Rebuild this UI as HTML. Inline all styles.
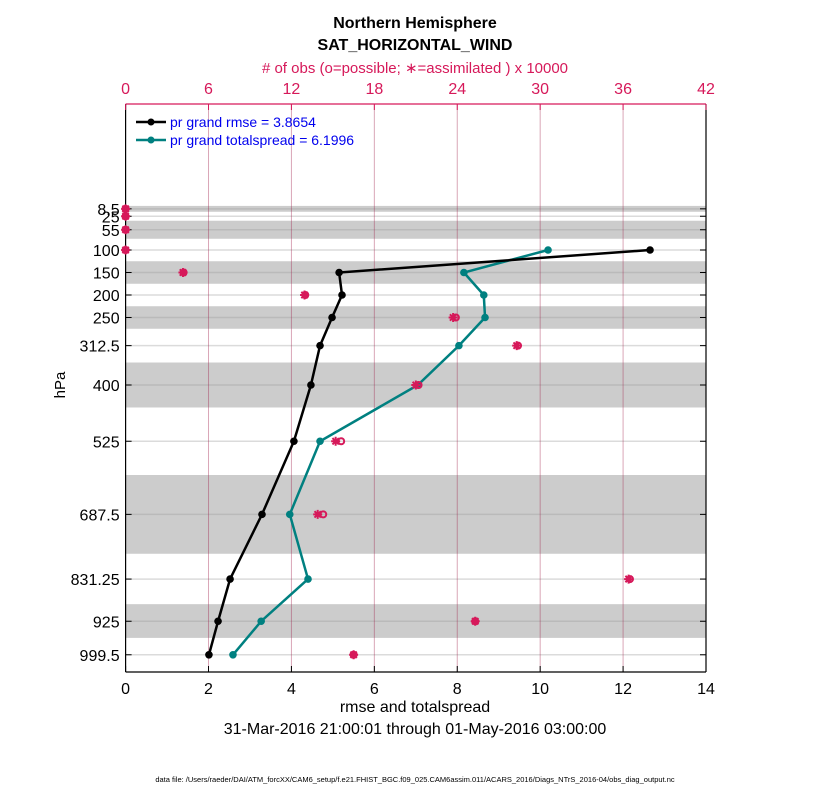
<!DOCTYPE html>
<html><head><meta charset="utf-8"><style>
body{margin:0;background:#fff;}
svg text{font-family:"Liberation Sans",Arial,sans-serif;}
</style></head><body>
<svg id="c" width="830" height="800" xmlns="http://www.w3.org/2000/svg">
<text x="415" y="28" text-anchor="middle" font-size="16" font-weight="bold">Northern Hemisphere</text>
<text x="415" y="50" text-anchor="middle" font-size="16" font-weight="bold">SAT_HORIZONTAL_WIND</text>
<text x="415" y="73" text-anchor="middle" font-size="15" fill="#d6195a"># of obs (o=possible; ∗=assimilated ) x 10000</text>
<g id="bands"></g><g id="grid"></g><g id="axes"></g><g id="marks"></g>
<g>
<line x1="136" y1="122" x2="166" y2="122" stroke="#000" stroke-width="2.5"/><circle cx="151" cy="122" r="3.5" fill="#000"/>
<text x="170" y="127" font-size="14" fill="#0000ee">pr grand rmse = 3.8654</text>
<line x1="136" y1="140" x2="166" y2="140" stroke="#008080" stroke-width="2.5"/><circle cx="151" cy="140" r="3.5" fill="#008080"/>
<text x="170" y="145" font-size="14" fill="#0000ee">pr grand totalspread = 6.1996</text>
</g>
<text x="415" y="712" text-anchor="middle" font-size="16">rmse and totalspread</text>
<text x="415" y="734" text-anchor="middle" font-size="16">31-Mar-2016 21:00:01 through 01-May-2016 03:00:00</text>
<text x="65" y="385" text-anchor="middle" font-size="15" transform="rotate(-90 65 385)">hPa</text>
<text x="415" y="782" text-anchor="middle" font-size="7.5">data file: /Users/raeder/DAI/ATM_forcXX/CAM6_setup/f.e21.FHIST_BGC.f09_025.CAM6assim.011/ACARS_2016/Diags_NTrS_2016-04/obs_diag_output.nc</text>
</svg>
<script>
const levels=[8.5,25,55,100,150,200,250,312.5,400,525,687.5,831.25,925,999.5];
const levelLabels=["8.5","25","55","100","150","200","250","312.5","400","525","687.5","831.25","925","999.5"];
const rmse=[null,null,null,12.65,5.15,5.22,4.98,4.69,4.47,4.06,3.29,2.52,2.23,2.01];
const spread=[null,null,null,10.19,8.16,8.64,8.67,8.04,7.05,4.69,3.96,4.40,3.27,2.59];
const obsPossible=[0,0,0,0,4.2,13.0,23.9,28.4,21.2,15.6,14.3,36.5,25.3,16.5];
const obsAssim=[0,0,0,0,4.15,12.95,23.7,28.3,21.0,15.2,13.9,36.4,25.3,16.5];
const xTicks=[0,2,4,6,8,10,12,14];
const topTicks=[0,6,12,18,24,30,36,42];
const bandBounds=[[2,15],[35,75],[125,175],[225,275],[350,450],[600,775],[887,962]];
const L=125.6,R=706,T=104,B=672;
const x=v=>L+(v-0)/(14-0)*(R-L);
const xt=v=>L+v/42*(R-L);
const y=p=>250+(p-100)*0.45;
const NS='http://www.w3.org/2000/svg';
function mk(g,t,a){const e=document.createElementNS(NS,t);for(const k in a)e.setAttribute(k,a[k]);document.getElementById(g).appendChild(e);return e;}
bandBounds.forEach(b=>{const r=mk('bands','rect',{x:L,y:y(b[0]),width:R-L,height:y(b[1])-y(b[0]),fill:'#cccccc'});

});
levels.forEach(p=>{const l=mk('grid','line',{x1:L,x2:R,y1:y(p),y2:y(p),stroke:'#999',"stroke-opacity":0.35,"stroke-width":1.5});

});
topTicks.slice(1,-1).forEach(v=>{const l=mk('grid','line',{x1:xt(v),x2:xt(v),y1:T,y2:B,stroke:'#a0204a',"stroke-opacity":0.4,"stroke-width":1});

});
mk('axes','line',{x1:L,x2:R,y1:T,y2:T,stroke:'#d6195a',"stroke-width":1.2});
mk('axes','line',{x1:L,x2:R,y1:B,y2:B,stroke:'#000',"stroke-width":1.2});
mk('axes','line',{x1:L,x2:L,y1:T,y2:B,stroke:'#000',"stroke-width":1.2});
mk('axes','line',{x1:R,x2:R,y1:T,y2:B,stroke:'#000',"stroke-width":1.2});
xTicks.forEach(v=>{mk('axes','line',{x1:x(v),x2:x(v),y1:B,y2:B-6,stroke:'#000'});
const t=mk('axes','text',{x:x(v),y:B+22,"text-anchor":"middle","font-size":16});t.textContent=v;

});
topTicks.forEach(v=>{mk('axes','line',{x1:xt(v),x2:xt(v),y1:T,y2:T+6,stroke:'#d6195a'});
const t=mk('axes','text',{x:xt(v),y:T-10,"text-anchor":"middle","font-size":16,fill:'#d6195a'});t.textContent=v;

});
levels.forEach((p,i)=>{mk('axes','line',{x1:L,x2:L+6,y1:y(p),y2:y(p),stroke:'#000'});mk('axes','line',{x1:R,x2:R-6,y1:y(p),y2:y(p),stroke:'#000'});
const t=mk('axes','text',{x:L-6,y:y(p)+6,"text-anchor":"end","font-size":16});t.textContent=levelLabels[i];

});
function series(vals,color,name){let pts=[];vals.forEach((v,i)=>{if(v!=null)pts.push([x(v),y(levels[i])]);});
const pl=mk('marks','polyline',{points:pts.map(p=>p.join(',')).join(' '),fill:'none',stroke:color,"stroke-width":2.5});


pts.forEach(p=>{const c=mk('marks','circle',{cx:p[0],cy:p[1],r:3.8,fill:color});

});}
series(spread,'#008080','totalspread');
series(rmse,'#000','rmse');
levels.forEach((p,i)=>{const cx=xt(obsPossible[i]),cy=y(p);
const c=mk('marks','circle',{cx:cx,cy:cy,r:3,fill:'none',stroke:'#d6195a',"stroke-width":2});


const ax=xt(obsAssim[i]);
const s=mk('marks','path',{d:`M${ax-4.5},${cy}H${ax+4.5}M${ax},${cy-4.5}V${cy+4.5}M${ax-3.2},${cy-3.2}L${ax+3.2},${cy+3.2}M${ax-3.2},${cy+3.2}L${ax+3.2},${cy-3.2}`,stroke:'#d6195a',"stroke-width":2});

});
</script>
</body></html>
